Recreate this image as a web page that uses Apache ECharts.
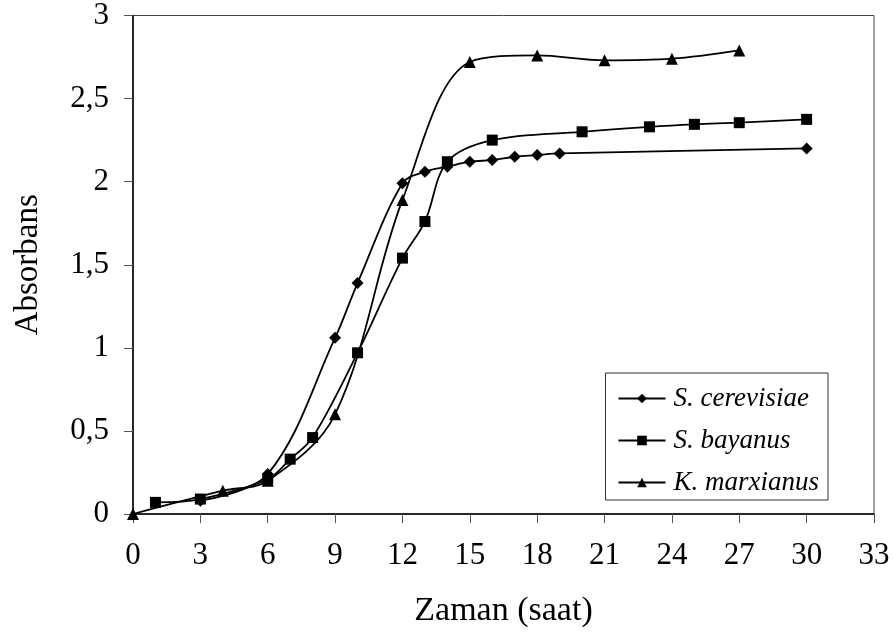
<!DOCTYPE html>
<html>
<head>
<meta charset="utf-8">
<script src="https://cdn.jsdelivr.net/npm/echarts@6/dist/echarts.min.js"></script>
<style>html,body{margin:0;padding:0;background:#fff;}#chart{width:894px;height:643px;}</style>
</head>
<body>
<div id="chart"></div>
<script>
// Data
const seriesNames = ['S. cerevisiae', 'S. bayanus', 'K. marxianus'];
const cerevisiaeX = [3, 6, 9, 10, 12, 13, 14, 15, 16, 17, 18, 19, 30];
const cerevisiaeY = [0.08, 0.24, 1.06, 1.39, 1.99, 2.06, 2.09, 2.12, 2.13, 2.15, 2.16, 2.17, 2.20];
const bayanusX = [1, 3, 6, 7, 8, 10, 12, 13, 14, 16, 20, 23, 25, 27, 30];
const bayanusY = [0.07, 0.09, 0.21, 0.33, 0.46, 0.97, 1.54, 1.76, 2.12, 2.25, 2.30, 2.33, 2.345, 2.355, 2.375];
const marxianusX = [0, 4, 6, 9, 12, 15, 18, 21, 24, 27];
const marxianusY = [0, 0.14, 0.20, 0.60, 1.89, 2.72, 2.76, 2.73, 2.74, 2.79];
const xTicks = [0, 3, 6, 9, 12, 15, 18, 21, 24, 27, 30, 33];
const yTicks = ['0', '0,5', '1', '1,5', '2', '2,5', '3'];

const pairs = (xs, ys) => xs.map((x, i) => [x, ys[i]]);
const font = 'Liberation Serif';
const symbols = ['diamond', 'rect', 'triangle'];
const sizes = [12, 11, 12];
const data = [pairs(cerevisiaeX, cerevisiaeY), pairs(bayanusX, bayanusY), pairs(marxianusX, marxianusY)];

const chart = echarts.init(document.getElementById('chart'), null, {renderer: 'canvas'});
chart.setOption({
  animation: false,
  backgroundColor: '#fff',
  grid: {left: 133, right: 20, top: 13, bottom: 129, show: true, borderColor: '#444', borderWidth: 1},
  legend: {
    orient: 'vertical', right: 66, top: 373,
    borderColor: '#333', borderWidth: 1, padding: [12, 9, 4, 12],
    itemWidth: 47, itemHeight: 12, itemGap: 15,
    textStyle: {fontFamily: font, fontStyle: 'italic', fontSize: 27, color: '#000', padding: [0, 0, 0, 3]},
    data: seriesNames
  },
  xAxis: {
    type: 'value', min: 0, max: 33, interval: 3,
    name: 'Zaman (saat)', nameLocation: 'middle', nameGap: 80,
    nameTextStyle: {fontFamily: font, fontSize: 34, color: '#000'},
    axisLine: {lineStyle: {color: '#000', width: 1.5}},
    axisTick: {show: true, length: 9, lineStyle: {color: '#555'}},
    axisLabel: {margin: 26, fontFamily: font, fontSize: 31, color: '#000',
      formatter: v => xTicks.includes(v) ? String(v) : ''},
    splitLine: {show: false}
  },
  yAxis: {
    type: 'value', min: 0, max: 3, interval: 0.5,
    name: 'Absorbans', nameLocation: 'middle', nameGap: 88,
    nameTextStyle: {fontFamily: font, fontSize: 33, color: '#000'},
    axisLine: {show: true, lineStyle: {color: '#000', width: 1.5}},
    axisTick: {show: true, length: 9, lineStyle: {color: '#555'}},
    axisLabel: {margin: 24, fontFamily: font, fontSize: 31, color: '#000',
      formatter: v => yTicks[Math.round(v * 2)]},
    splitLine: {show: false}
  },
  series: seriesNames.map((n, i) => ({
    name: n, type: 'line', data: data[i], smooth: 0.35,
    symbol: symbols[i], symbolSize: sizes[i], showAllSymbol: true,
    lineStyle: {color: '#000', width: 1.8},
    itemStyle: {color: '#000'},
    z: 3 - i
  }))
});
</script>
</body>
</html>
